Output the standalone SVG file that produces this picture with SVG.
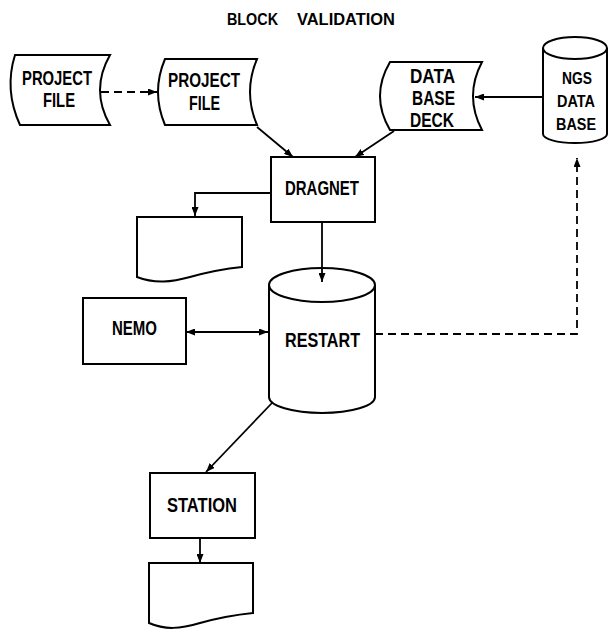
<svg xmlns="http://www.w3.org/2000/svg" width="609" height="629" viewBox="0 0 609 629">
<style>
  .shape { fill: #fff; stroke: #000; stroke-width: 2; }
  .line { fill: none; stroke: #000; stroke-width: 1.8; }
  .dash { fill: none; stroke: #000; stroke-width: 1.8; stroke-dasharray: 8 5; }
  .lbl { font-family: "Liberation Sans", Arial, sans-serif; font-weight: bold; font-size: 20px; fill: #000; }
  .mid { text-anchor: middle; font-size: 17px; }
  .title { font-family: "Liberation Sans", Arial, sans-serif; font-weight: bold; font-size: 17px; fill: #000; }
</style>
<defs>
  <marker id="arrow" viewBox="0 0 9 7" refX="9" refY="3.5" markerWidth="9" markerHeight="7" markerUnits="userSpaceOnUse" orient="auto-start-reverse">
    <path d="M0,0 L9,3.5 L0,7 Z" fill="#000"/>
  </marker>
</defs>
<rect width="609" height="629" fill="#fff"/>

<g id="title">
  <text class="title" x="227" y="25" textLength="51" lengthAdjust="spacingAndGlyphs">BLOCK</text>
  <text class="title" x="297" y="25" textLength="98" lengthAdjust="spacingAndGlyphs">VALIDATION</text>
</g>

<g id="project-file-1">
  <path class="shape" d="M15,55 L110,55 Q90,90 110,125 L20,125 Q4,90 15,55 Z"/>
  <text class="lbl" x="22" y="85" textLength="70" lengthAdjust="spacingAndGlyphs">PROJECT</text>
  <text class="lbl" x="43" y="107" textLength="32" lengthAdjust="spacingAndGlyphs">FILE</text>
</g>

<g id="project-file-2">
  <path class="shape" d="M165,59 L257,59 Q243,92 257,125 L165,125 Q151,92 165,59 Z"/>
  <text class="lbl" x="168" y="87" textLength="72" lengthAdjust="spacingAndGlyphs">PROJECT</text>
  <text class="lbl" x="189" y="110" textLength="31" lengthAdjust="spacingAndGlyphs">FILE</text>
</g>

<g id="data-base-deck">
  <path class="shape" d="M390,62 L482,62 Q464,96 482,130 L390,130 Q370,96 390,62 Z"/>
  <text class="lbl" x="410" y="83" textLength="45" lengthAdjust="spacingAndGlyphs">DATA</text>
  <text class="lbl" x="412" y="105" textLength="43" lengthAdjust="spacingAndGlyphs">BASE</text>
  <text class="lbl" x="410" y="127" textLength="44" lengthAdjust="spacingAndGlyphs">DECK</text>
</g>

<g id="ngs-data-base">
  <path class="shape" d="M543,48 V134 A32,9 0 0 0 607,134 V48"/>
  <ellipse class="shape" cx="575" cy="48" rx="32" ry="11"/>
  <text class="lbl mid" x="577" y="84" textLength="30" lengthAdjust="spacingAndGlyphs">NGS</text>
  <text class="lbl mid" x="576" y="107" textLength="38" lengthAdjust="spacingAndGlyphs">DATA</text>
  <text class="lbl mid" x="576" y="130" textLength="40" lengthAdjust="spacingAndGlyphs">BASE</text>
</g>

<g id="dragnet">
  <rect class="shape" x="271" y="157" width="104" height="65"/>
  <text class="lbl" x="285" y="195" textLength="74" lengthAdjust="spacingAndGlyphs">DRAGNET</text>
</g>

<g id="report-1">
  <path class="shape" d="M137,217 H242 V267 C222,269 208,272 190,277 C172,282 155,284 137,277 Z"/>
</g>

<g id="restart">
  <path class="shape" d="M269,285 V397 A53,16 0 0 0 375,397 V285"/>
  <ellipse class="shape" cx="322" cy="285" rx="53" ry="17"/>
  <text class="lbl" x="285" y="347" textLength="75" lengthAdjust="spacingAndGlyphs">RESTART</text>
</g>

<g id="nemo">
  <rect class="shape" x="83" y="298" width="103" height="66"/>
  <text class="lbl" x="112" y="335" textLength="45" lengthAdjust="spacingAndGlyphs">NEMO</text>
</g>

<g id="station">
  <rect class="shape" x="150" y="473" width="105" height="65"/>
  <text class="lbl" x="167" y="512" textLength="70" lengthAdjust="spacingAndGlyphs">STATION</text>
</g>

<g id="report-2">
  <path class="shape" d="M149,563 H253 V613 C233,615 218,618 200,623 C180,629 165,630 149,623 Z"/>
</g>

<g id="connectors">
  <path class="dash" d="M101,92 H157" marker-end="url(#arrow)"/>
  <path class="line" d="M257,127 L293,157" marker-end="url(#arrow)"/>
  <path class="line" d="M543,97 H475" marker-end="url(#arrow)"/>
  <path class="line" d="M394,131 L355,157" marker-end="url(#arrow)"/>
  <path class="line" d="M271,193 H195 V216" marker-end="url(#arrow)"/>
  <path class="line" d="M322,222 V282" marker-end="url(#arrow)"/>
  <path class="line" d="M186,332 H268" marker-start="url(#arrow)" marker-end="url(#arrow)"/>
  <path class="dash" d="M375,334 H577 V158" marker-end="url(#arrow)"/>
  <path class="line" d="M272,403 L206,472" marker-end="url(#arrow)"/>
  <path class="line" d="M200,538 V563" marker-end="url(#arrow)"/>
</g>
</svg>
